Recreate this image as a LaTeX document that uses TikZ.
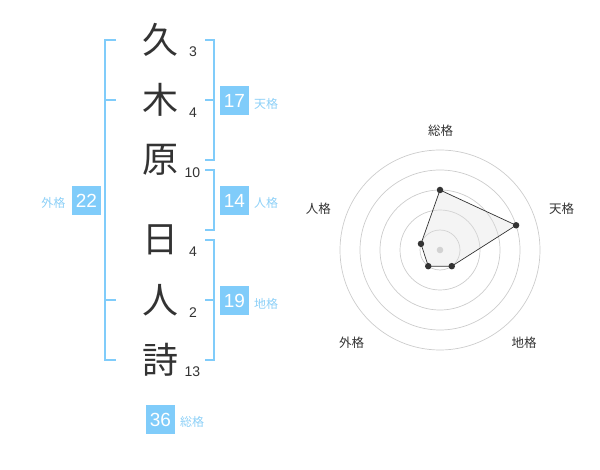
\documentclass[tikz,border=0pt]{standalone}
\usepackage{fontspec}
\setmainfont{Liberation Sans}
\newfontfamily\jpfont{Noto Sans CJK JP}
\definecolor{seiblue}{HTML}{80CCFA}
\definecolor{seilabel}{HTML}{8DD0F7}
\definecolor{seitext}{HTML}{333333}

\begin{document}
\begin{tikzpicture}[x=1pt,y=-1pt,
  kanji/.style={font=\jpfont\fontsize{36}{36}\selectfont, text=seitext, inner sep=0pt},
  strokes/.style={font=\fontsize{14}{14}\selectfont, text=seitext, inner sep=0pt},
  kakubox/.style={fill=seiblue, text=white, minimum size=29pt, inner sep=0pt, font=\fontsize{19}{19}\selectfont},
  kakuname/.style={font=\jpfont\fontsize{12}{12}\selectfont, text=seilabel, inner sep=0pt},
  bracket/.style={draw=seiblue, line width=2pt},
  ring/.style={draw=gray!40, line width=0.7pt},
  axisname/.style={font=\jpfont\fontsize{12.5}{12.5}\selectfont, text=seitext, inner sep=0pt},
  dot/.style={circle, fill=seitext, inner sep=0pt, minimum size=6.5pt}]

\useasboundingbox (0,0) rectangle (600,470);

\node[kanji] (ku) at (160.5,40) {久};
\node[kanji] (ki) at (160.5,100) {木};
\node[kanji] (hara) at (160.5,160) {原};
\node[kanji] (hi) at (160.5,240) {日};
\node[kanji] (hito) at (160.5,300) {人};
\node[kanji] (uta) at (160.5,360) {詩};

\node[strokes] (nku) at (193,52) {3};
\node[strokes] (nki) at (193,112.5) {4};
\node[strokes] (nhara) at (192.5,172.5) {10};
\node[strokes] (nhi) at (193,252) {4};
\node[strokes] (nhito) at (193,313) {2};
\node[strokes] (nuta) at (192.5,372) {13};

% brackets
\draw[bracket] (116,40) -| (105,360) -- (116,360);
\foreach \y in {100,300}
	\draw[bracket] (105,\y) -- (116,\y);
\foreach \ya/\yb in {40/160, 170/230, 240/360}
	\draw[bracket] (205,\ya) -| (214,\yb) -- (205,\yb);
\foreach \y in {100,300}
	\draw[bracket] (205,\y) -- (214,\y);

\node[kakubox] (gaikaku) at (86.5,200.5) {22};
\node[kakubox] (tenkaku) at (234.5,100.5) {17};
\node[kakubox] (jinkaku) at (234.5,200.5) {14};
\node[kakubox] (chikaku) at (234.5,300.5) {19};
\node[kakubox] (soukaku) at (160.5,419.5) {36};

\node[kakuname] (lgai) at (53.5,203) {外格};
\node[kakuname] (lten) at (266,104) {天格};
\node[kakuname] (ljin) at (266,203) {人格};
\node[kakuname] (lchi) at (266,304) {地格};
\node[kakuname] (lsou) at (192,422) {総格};

% radar
\begin{scope}[shift={(440,250)}, y=1pt]
\foreach \r in {20,40,...,100}
	\draw[ring] (0,0) circle (\r);
\fill[gray!40] (0,0) circle (3.3);
\coordinate (sou) at (90:60);
\coordinate (ten) at (18:80);
\coordinate (chi) at (-54:20);
\coordinate (gai) at (-126:20);
\coordinate (jin) at (162:20);
\draw[seitext, line width=0.7pt, fill=gray!25, fill opacity=0.35] (sou) -- (ten) -- (chi) -- (gai) -- (jin) -- cycle;
\foreach \p in {sou,ten,chi,gai,jin}
	\node[dot] (d\p) at (\p) {};
\end{scope}

\node[axisname] (asou) at (440.7,130.7) {総格};
\node[axisname] (aten) at (561.7,208.3) {天格};
\node[axisname] (ajin) at (318.3,209) {人格};
\node[axisname] (agai) at (351.7,342.3) {外格};
\node[axisname] (achi) at (524,342.3) {地格};

\end{tikzpicture}
\end{document}
